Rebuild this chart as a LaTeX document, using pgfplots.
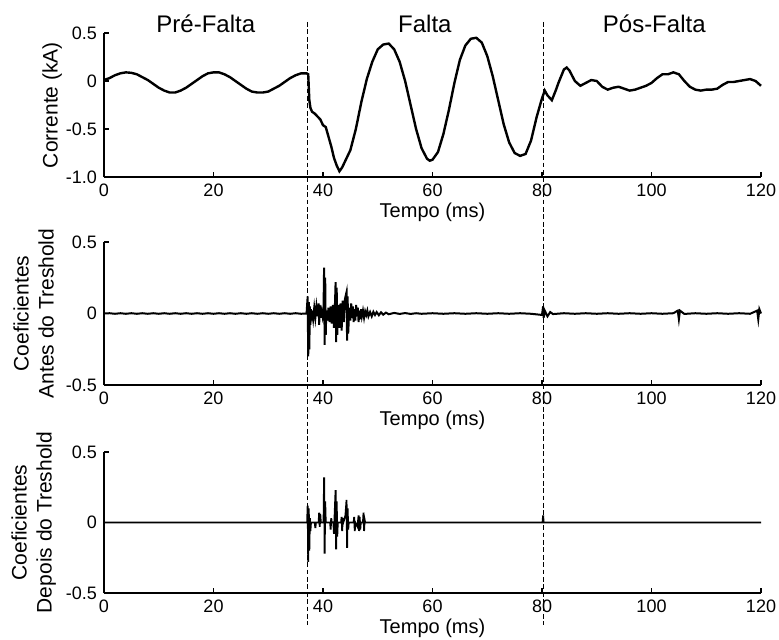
\documentclass[border=0pt]{standalone}
\usepackage{fontspec}
\setmainfont{Liberation Sans}
\usepackage{pgfplots}
\pgfplotsset{compat=1.18}

% estilo comum das tres janelas (tipo MATLAB, box off)
\pgfplotsset{
  janela/.style={
    scale only axis,
    width=328.5pt,
    xmin=0, xmax=120,
    axis x line*=bottom, axis y line*=left,
    axis line style={-, line width=0.75pt},
    tick align=inside,
    major tick length=2.5pt,
    tick style={black, line width=0.6pt},
    xtick={0,20,...,120},
    ticklabel style={font=\fontsize{9}{10}\selectfont},
    /pgf/number format/assume math mode=true,
    xlabel={Tempo (ms)},
    xlabel style={at={(axis description cs:0.5,0)}, anchor=center, yshift=-17.5pt,
      font=\fontsize{10}{12}\selectfont},
    ylabel style={anchor=center, rotate=0, font=\fontsize{10.5}{12.5}\selectfont, align=center},
    clip=false,
  },
}

\begin{document}
\begin{tikzpicture}
\useasboundingbox (0,0) rectangle (389.5pt,-320pt);

% ---- Corrente ----
\begin{axis}[janela,
  at={(52pt,-88.5pt)}, anchor=south west, height=72pt,
  ymin=-1, ymax=0.5,
  ytick={-1,-0.5,0,0.5}, yticklabels={-1.0,-0.5,0,0.5},
  ylabel={Corrente (kA)},
  every axis y label/.append style={at={(axis description cs:-0.079,0.5)}},
]
\addplot[black, line width=1.2pt] coordinates {
(0,0.01) (1,0.03) (2,0.06) (3,0.08) (4,0.09) (5,0.085) (6,0.07) (7,0.04) (8,0.01)
(9,-0.03) (10,-0.07) (11,-0.10) (12,-0.12) (13,-0.12) (14,-0.10) (15,-0.07) (16,-0.03)
(17,0.01) (18,0.05) (19,0.08) (20,0.09) (21,0.09) (22,0.07) (23,0.04) (24,0.00)
(25,-0.04) (26,-0.08) (27,-0.11) (28,-0.12) (29,-0.12) (30,-0.11) (31,-0.08) (32,-0.05)
(33,-0.01) (34,0.03) (35,0.06) (36,0.08) (37,0.08) (37.3,0.07)
(37.5,-0.20) (37.7,-0.28) (38,-0.32) (38.5,-0.34) (39,-0.37) (39.5,-0.40) (40,-0.46)
(40.5,-0.48) (41,-0.58) (41.5,-0.68) (42,-0.80) (42.5,-0.88) (43,-0.94) (43.5,-0.90)
(44,-0.84) (45,-0.72) (46,-0.50) (47,-0.22) (48,0.02) (49,0.20) (50,0.33) (51,0.38)
(52,0.39) (53,0.33) (54,0.20) (55,0.00) (56,-0.25) (57,-0.50) (58,-0.70) (59,-0.81)
(59.5,-0.83) (60,-0.82) (61,-0.74) (62,-0.55) (63,-0.30) (64,-0.02) (65,0.22) (66,0.37)
(67,0.44) (68,0.45) (69,0.40) (70,0.26) (71,0.05) (72,-0.20) (73,-0.45) (74,-0.64)
(75,-0.75) (76,-0.78) (77,-0.76) (78,-0.62) (79,-0.38) (80,-0.18) (80.5,-0.10)
(81,-0.15) (81.8,-0.20) (82.5,-0.10) (83,-0.02) (84,0.12) (84.5,0.14) (85,0.11) (86,0.00)
(87,-0.05) (88,-0.02) (89,0.01) (90,0.00) (91,-0.06) (92,-0.09) (93,-0.07) (94,-0.06)
(95,-0.08) (96,-0.10) (97,-0.09) (98,-0.07) (99,-0.05) (100,-0.02) (101,0.03)
(102,0.07) (103,0.07) (104,0.09) (105,0.07) (106,0.00) (107,-0.06) (108,-0.09)
(109,-0.10) (110,-0.09) (111,-0.09) (112,-0.08) (113,-0.04) (114,-0.01) (115,-0.01)
(116,0.00) (117,0.01) (118,0.02) (119,0.00) (120,-0.05)
};
% separadores das fases e titulos
\draw[black, line width=0.55pt, dash pattern=on 2.4pt off 1.3pt]
  (axis cs:37.2,0.615) -- (axis cs:37.2,-5.67);
\draw[black, line width=0.55pt, dash pattern=on 2.4pt off 1.3pt]
  (axis cs:80.3,0.615) -- (axis cs:80.3,-5.67);
\node[anchor=base, font=\fontsize{12}{14}\selectfont] at (axis cs:18.6,0.51) {Pré-Falta};
\node[anchor=base, font=\fontsize{12}{14}\selectfont] at (axis cs:58.6,0.51) {Falta};
\node[anchor=base, font=\fontsize{12}{14}\selectfont] at (axis cs:100.5,0.51) {Pós-Falta};
\end{axis}

% ---- Coeficientes antes do treshold ----
\begin{axis}[janela,
  at={(52pt,-192.5pt)}, anchor=south west, height=71.5pt,
  ymin=-0.5, ymax=0.5,
  ytick={-0.5,0,0.5}, yticklabels={-0.5,0,0.5},
  ylabel={Coeficientes\\Antes do Treshold},
  every axis y label/.append style={at={(axis description cs:-0.107,0.5)}},
]
\addplot[black, line width=1.0pt] coordinates {
(0,0) (1,0.002) (2,-0.002) (3,0.002) (4,-0.002) (5,0.002) (6,-0.002) (7,0.002)
(8,-0.002) (9,0.002) (10,-0.002) (11,0.002) (12,-0.002) (13,0.002) (14,-0.002)
(15,0.002) (16,-0.002) (17,0.002) (18,-0.002) (19,0.002) (20,-0.002) (21,0.002)
(22,-0.002) (23,0.002) (24,-0.002) (25,0.002) (26,-0.002) (27,0.002) (28,-0.002)
(29,0.002) (30,-0.002) (31,0.002) (32,-0.002) (33,0.002) (34,-0.002) (35,0.002)
(36,-0.002) (37,0)
(37.2,0.12) (37.3,-0.30) (37.4,0.08) (37.5,-0.25) (37.6,0.05) (37.7,-0.08) (37.8,0.03)
(37.9,-0.05) (38.0,0.02) (38.2,-0.04) (38.4,0.04) (38.6,-0.03) (38.8,0.05) (39.0,-0.02)
(39.2,0.07) (39.3,-0.08) (39.4,0.06) (39.5,-0.03) (39.7,0.02) (39.9,-0.02) (40.1,0.05)
(40.2,0.32) (40.3,-0.22) (40.4,0.25) (40.5,-0.15) (40.6,0.02) (40.8,-0.05) (41.0,0.04)
(41.2,-0.06) (41.4,0.05) (41.6,-0.07) (41.8,0.06) (42.0,-0.10) (42.2,0.08) (42.3,0.22)
(42.4,-0.20) (42.5,0.18) (42.6,-0.15) (42.8,0.06) (43.0,-0.10) (43.2,0.07) (43.4,-0.12)
(43.6,0.09) (43.8,-0.06) (44.0,0.10) (44.3,0.15) (44.4,-0.19) (44.5,0.12) (44.6,-0.14)
(44.8,0.04) (45.0,-0.05) (45.15,0.07) (45.3,-0.03) (45.45,0.05) (45.6,-0.06)
(45.75,0.03) (45.9,-0.05) (46.05,0.06) (46.2,-0.02) (46.35,0.04) (46.5,-0.06)
(46.65,0.02) (46.8,-0.04) (46.95,0.03) (47.1,-0.02) (47.3,0.02) (47.5,-0.03)
(47.7,0.015) (47.9,-0.01) (48.1,0.02) (48.3,-0.02) (48.6,0.01) (48.9,-0.02)
(49.2,0.012) (49.5,-0.01) (49.8,0.01) (50.2,-0.012) (50.6,0.008) (51,-0.008)
(51.5,0.006) (52,-0.005) (53,0.004) (54,-0.003) (55,0.003) (56,-0.003) (57,0.002)
(58,-0.002) (60,0.002) (62,-0.002) (64,0.002) (66,-0.002) (68,0.002) (70,-0.002)
(72,0.002) (74,-0.002) (76,0.002) (78,-0.002) (80.0,-0.01) (80.2,0.05) (80.3,-0.03)
(80.5,0.02) (81,-0.02) (81.5,0.01) (82,-0.004) (84,0.002) (86,-0.002) (88,0.002)
(90,-0.002) (92,0.002) (94,-0.002) (96,0.002) (98,-0.002) (100,0.002) (102,-0.002)
(104,0.002) (104.8,0.02) (105,-0.04) (105.2,0.02) (106,-0.003) (108,0.002)
(110,-0.002) (112,0.002) (114,-0.002) (116,0.002) (118,-0.002) (119.3,0.02)
(119.5,-0.04) (119.7,0.03) (120,0)
};
\end{axis}

% ---- Coeficientes depois do treshold ----
\begin{axis}[janela,
  at={(52pt,-296.5pt)}, anchor=south west, height=70.5pt,
  ymin=-0.5, ymax=0.5,
  ytick={-0.5,0,0.5}, yticklabels={-0.5,0,0.5},
  ylabel={Coeficientes\\Depois do Treshold},
  every axis y label/.append style={at={(axis description cs:-0.107,0.5)}},
]
\addplot[black, line width=0.9pt] coordinates {
(0,0) (37.1,0)
(37.2,0.12) (37.3,-0.28) (37.4,0.10) (37.5,-0.20) (37.6,0.03) (37.7,-0.06) (37.8,0)
(38.5,0) (38.6,-0.04) (38.7,0) (39.2,0) (39.3,0.07) (39.4,-0.03) (39.5,0.06) (39.6,0)
(40.1,0) (40.2,0.32) (40.3,-0.22) (40.4,0.15) (40.5,0) (41.3,0) (41.4,-0.05)
(41.5,0.03) (41.6,0) (41.9,0) (42.0,-0.08) (42.1,0.03) (42.3,0.23) (42.4,-0.19)
(42.5,0.15) (42.6,-0.10) (42.7,0) (43.3,0) (43.4,0.04) (43.5,-0.06) (43.6,0.03)
(43.7,0) (44.1,0.05) (44.3,0.16) (44.4,-0.18) (44.5,0.10) (44.6,-0.05) (44.7,0)
(45.6,0) (45.7,0.04) (45.8,-0.06) (45.9,0) (46.3,-0.03) (46.5,0.05) (46.6,-0.06)
(46.7,0.04) (46.8,-0.05) (46.9,0) (47.3,0) (47.4,0.07) (47.5,-0.06) (47.6,0.02)
(47.7,0) (80.1,0) (80.2,0.05) (80.3,0) (120,0)
};
\end{axis}
\end{tikzpicture}
\end{document}
